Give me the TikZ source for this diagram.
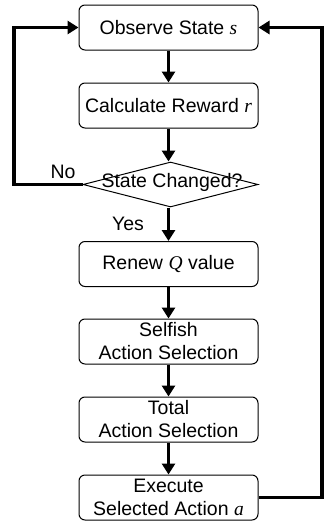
\documentclass[tikz,border=0pt]{standalone}
\usepackage{fontspec}
\setmainfont{Liberation Sans}
\newfontfamily\serifit{Liberation Serif}
\usetikzlibrary{arrows.meta,shapes.geometric}
\begin{document}
\begin{tikzpicture}[x=1pt,y=-1pt,
  procbox/.style={draw, line width=1pt, rounded corners=6pt, minimum width=179pt,
    minimum height=45pt, align=center, inner sep=0pt, font=\fontsize{19.5}{23}\selectfont},
  flow/.style={line width=3pt, -{Triangle[length=11pt,width=13pt]}},
  loopline/.style={line width=3.5pt, -{Triangle[length=11pt,width=13pt]}},
  lbl/.style={font=\fontsize{19.5}{23}\selectfont, inner sep=0pt}]
\useasboundingbox (0,0) rectangle (326,522);
\node[procbox] (b1) at (168.5,27.5) {Observe State {\serifit\itshape s}};
\node[procbox] (b2) at (168.5,105.5) {Calculate Reward {\serifit\itshape r}};
\node[diamond, draw, line width=1pt, minimum width=175pt, minimum height=45pt, inner sep=0pt] (d) at (170.5,184.5) {};
\node[lbl] (dt) at (172,182) {State Changed?};
\node[procbox] (b3) at (168.5,264) {Renew {\serifit\itshape Q} value};
\node[procbox] (b4) at (168.5,341.5) {Selfish\\Action Selection};
\node[procbox] (b5) at (168.5,419.5) {Total\\Action Selection};
\node[procbox] (b6) at (168.5,497.5) {Execute\\Selected Action {\serifit\itshape a}};
\node[lbl] (no) at (63,172) {No};
\node[lbl] (yes) at (128,224) {Yes};
\coordinate (lx) at (14,0);
\coordinate (rx) at (322,0);
\draw[flow] (b1) -- (b2);
\draw[flow] (b2.south) -- (b2.south |- d.north);
\draw[flow] (d.south -| b3.north) -- (b3);
\draw[flow] (b3) -- (b4);
\draw[flow] (b4) -- (b5);
\draw[flow] (b5) -- (b6);
\draw[loopline] (d.west) -- (d.west -| lx) |- (b1.west);
\draw[loopline] (b6.east) -- (b6.east -| rx) |- (b1.east);
\end{tikzpicture}
\end{document}
